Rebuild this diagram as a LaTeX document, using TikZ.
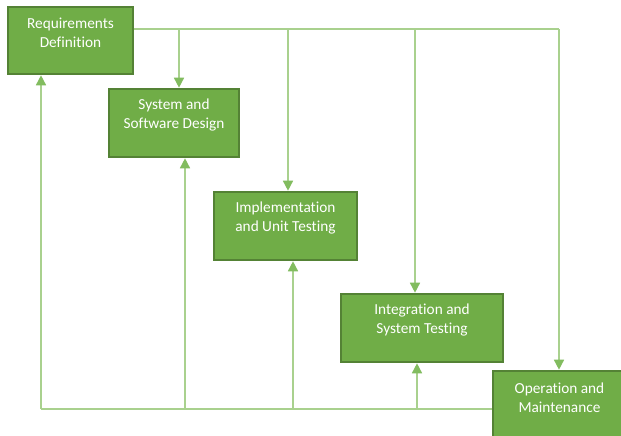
\documentclass[tikz,border=0pt]{standalone}
\usepackage{fontspec}
\setmainfont[Ligatures=NoCommon]{Carlito}
\usetikzlibrary{arrows.meta}
\definecolor{boxfill}{RGB}{112,173,71}
\definecolor{boxedge}{RGB}{84,130,53}
\definecolor{lineclr}{RGB}{169,209,142}
\definecolor{tipclr}{RGB}{130,188,95}
\tikzset{
  box/.style={draw=boxedge, line width=1.6pt, fill=boxfill, rectangle, inner sep=0pt},
  lbl/.style={text=white, align=center, font=\fontsize{15.3}{19}\selectfont, inner sep=0pt},
  ln/.style={draw=lineclr, line width=1.5pt},
  arr/.style={ln, -{Triangle[width=10pt,length=10pt,color=tipclr]}, shorten >=0.5pt},
}
\begin{document}
\begin{tikzpicture}[x=1pt,y=-1pt]
\useasboundingbox (0,0) rectangle (621,436);
\fill[white] (0,0) rectangle (621,436);
% boxes
\node[box, minimum width=125pt, minimum height=67pt] (req) at (70.5,40.5) {};
\node[box, minimum width=130pt, minimum height=68pt] (des) at (174,123) {};
\node[box, minimum width=143pt, minimum height=68pt] (imp) at (285.5,226) {};
\node[box, minimum width=162pt, minimum height=68pt] (int) at (422,328) {};
\node[box, minimum width=133pt, minimum height=68pt] (ops) at (559.5,405) {};
% labels
\node[lbl] (reqt) at ([yshift=7.5pt]req.center) {Requirements\\Definition};
\node[lbl] (dest) at ([yshift=7.5pt]des.center) {System and\\Software Design};
\node[lbl] (impt) at ([yshift=7.5pt]imp.center) {Implementation\\and Unit Testing};
\node[lbl] (intt) at ([yshift=7.5pt]int.center) {Integration and\\System Testing};
\node[lbl] (opst) at ([yshift=7.5pt]ops.center) {Operation and\\Maintenance};
% helper coordinates
\coordinate (tr) at (559,29);
\coordinate (bl) at (41,409);
% top feed line
\draw[ln] (req.east |- tr) -- (tr);
\draw[arr] (tr) -- (tr |- ops.north);
\draw[arr] ([xshift=5pt]des.north |- tr) -- ([xshift=5pt]des.north);
\draw[arr] ([xshift=2.5pt]imp.north |- tr) -- ([xshift=2.5pt]imp.north);
\draw[arr] ([xshift=-7pt]int.north |- tr) -- ([xshift=-7pt]int.north);
% bottom feedback line
\draw[ln] (bl) -- (bl -| ops.west);
\draw[arr] (bl) -- (bl |- req.south);
\draw[arr] ([xshift=11pt]des.south |- bl) -- ([xshift=11pt]des.south);
\draw[arr] ([xshift=7.5pt]imp.south |- bl) -- ([xshift=7.5pt]imp.south);
\draw[arr] ([xshift=-5pt]int.south |- bl) -- ([xshift=-5pt]int.south);
\end{tikzpicture}
\end{document}
